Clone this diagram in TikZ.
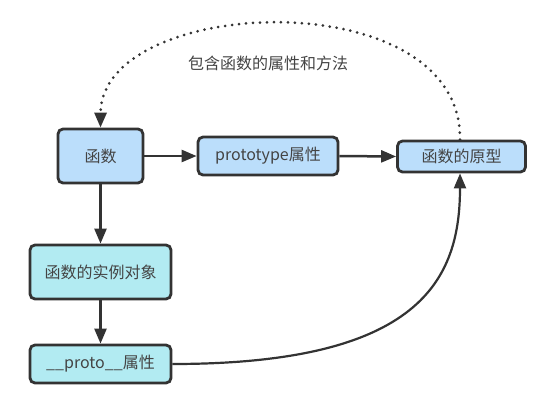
\documentclass[tikz,border=0pt]{standalone}
\usepackage{fontspec}
\setmainfont{Noto Sans CJK SC}
\usetikzlibrary{arrows.meta}
\definecolor{boxblue}{HTML}{BBDEFB}
\definecolor{boxcyan}{HTML}{B2EBF2}
\definecolor{edge}{HTML}{333333}
\definecolor{txt}{HTML}{444444}
\begin{document}
\begin{tikzpicture}[x=1pt,y=-1pt,
  box/.style={draw=edge,line width=2.8pt,rounded corners=5pt,inner sep=0pt,
    text=txt,font=\fontsize{16}{19}\selectfont},
  bluebox/.style={box,fill=boxblue},
  cyanbox/.style={box,fill=boxcyan},
  link/.style={draw=edge,line width=2.5pt,-{Triangle[length=15pt,width=12pt]}},
  curvelink/.style={draw=edge,line width=2.2pt,-{Triangle[length=15pt,width=12pt]}},
  dotlink/.style={draw=edge,line width=3pt,line cap=round,dash pattern=on 0pt off 7pt,
    -{Triangle[length=15pt,width=12pt]}}]
\useasboundingbox (0,0) rectangle (548,405);
\fill[white] (0,0) rectangle (548,405);
\node[bluebox,minimum width=85pt,minimum height=54pt] (fn) at (100.5,156) {函数};
\node[bluebox,minimum width=140pt,minimum height=38pt] (pt) at (268,156) {prototype属性};
\node[bluebox,minimum width=128pt,minimum height=31pt] (proto) at (461.5,156.5) {函数的原型};
\node[cyanbox,minimum width=141pt,minimum height=54pt] (inst) at (100.5,272) {函数的实例对象};
\node[cyanbox,minimum width=141pt,minimum height=38pt] (dp) at (100.5,364) {\_\_proto\_\_属性};
\node[text=txt,font=\fontsize{16}{19}\selectfont] (lbl) at (268,63) {包含函数的属性和方法};
\draw[link] (fn.east) -- (pt.west);
\draw[link] (pt.east) -- (proto.west);
\draw[link] (fn.south) -- (inst.north);
\draw[link] (inst.south) -- (dp.north);
\draw[curvelink] (dp.east) .. controls (420,364) and (460,280) .. ([xshift=-1.5pt]proto.south);
\draw[dotlink] ([xshift=-1.5pt]proto.north) .. controls (462,-20) and (101,-5) .. (fn.north);
\end{tikzpicture}
\end{document}
